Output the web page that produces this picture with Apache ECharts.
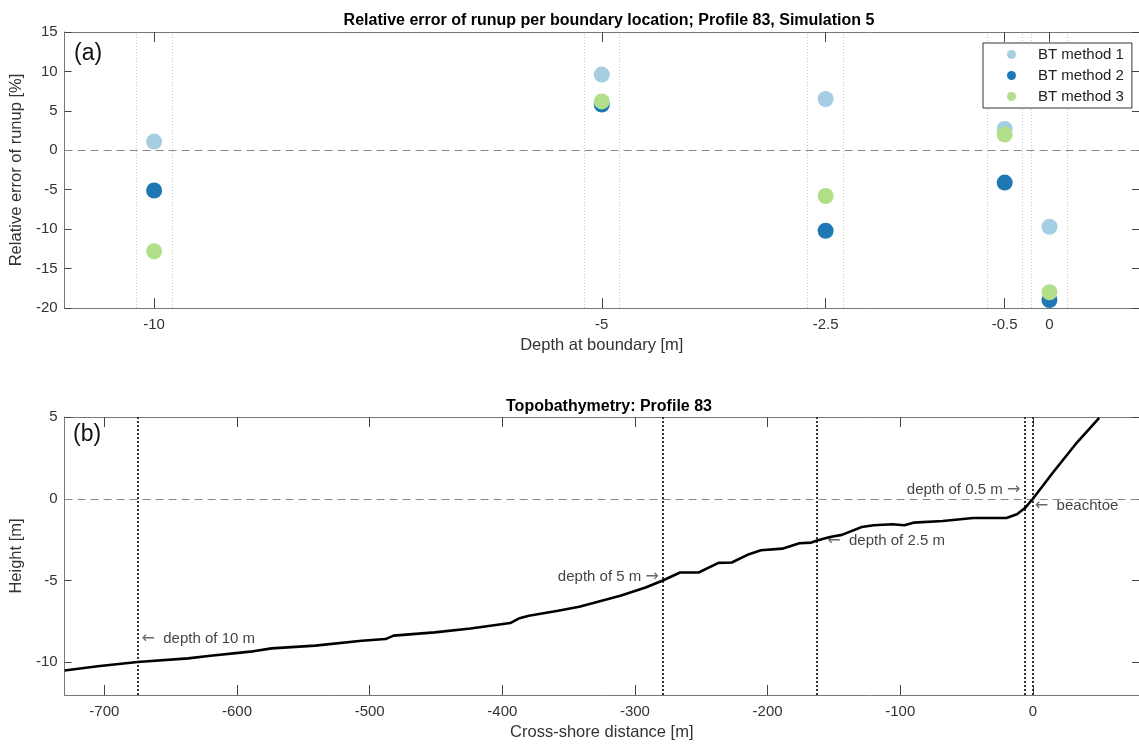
<!DOCTYPE html>
<html>
<head>
<meta charset="utf-8">
<script src="https://cdn.jsdelivr.net/npm/echarts@6/dist/echarts.min.js"></script>
<style>
html,body{margin:0;padding:0;background:#fff;}
#chart{width:1139px;height:749px;}
</style>
</head>
<body>
<div id="chart"></div>
<script>
// panel (a): relative error of runup per boundary depth
var depths = [-10, -5, -2.5, -0.5, 0];
var errMethod1 = [1.1, 9.6, 6.5, 2.7, -9.7];
var errMethod2 = [-5.1, 5.8, -10.2, -4.1, -19.0];
var errMethod3 = [-12.8, 6.2, -5.8, 2.0, -18.0];
var methodNames = ['BT method 1', 'BT method 2', 'BT method 3'];

// panel (b): profile 83
var profileX = [-730, -705, -675, -637, -620, -590, -574, -541, -506, -488, -482, -451, -424, -394, -387, -380, -358, -342, -311, -292, -279, -266, -252, -237, -227, -214, -205, -189, -176, -167, -162, -153, -144, -129, -120, -106, -97, -90, -68, -45, -20, -12, -6, 0, 15, 32, 50];
var profileY = [-10.5, -10.24, -9.98, -9.76, -9.6, -9.35, -9.15, -8.98, -8.68, -8.58, -8.37, -8.17, -7.93, -7.6, -7.3, -7.15, -6.85, -6.6, -5.93, -5.43, -5.0, -4.51, -4.51, -3.92, -3.9, -3.39, -3.15, -3.05, -2.72, -2.68, -2.54, -2.34, -2.21, -1.73, -1.62, -1.56, -1.62, -1.46, -1.36, -1.18, -1.18, -0.95, -0.57, 0.0, 1.59, 3.32, 4.95];
var boundaryX = [-675, -279, -163, -6, 0];
var annoText = ['{a|\u2190}  depth of 10 m', 'depth of 5 m {a|\u2192}', '{a|\u2190}  depth of 2.5 m', 'depth of 0.5 m {a|\u2192}', '{a|\u2190}  beachtoe'];
var annoX = [-672, -282, -155, -9.5, 1.5];
var annoY = [-8.55, -4.8, -2.6, 0.55, -0.45];
var annoAlign = ['left', 'right', 'left', 'right', 'left'];

var colors = ['#a6cee3', '#1f78b4', '#b2df8a'];
var font = 'Liberation Sans, Arial, sans-serif';
var axisColor = '#777';
var labelColor = '#333';

var chart = echarts.init(document.getElementById('chart'));

function pts(ys){
	var out = [];
	for(var i=0;i<depths.length;i++){
		out.push([depths[i], ys[i]]);
	}
	return out;
}
var bandLines = [];
for(var i=0;i<depths.length;i++){
	bandLines.push({xAxis: depths[i]-0.2});
	bandLines.push({xAxis: depths[i]+0.2});
}
var boundLines = boundaryX.map(function(x){ return {xAxis: x}; });
var profile = profileX.map(function(x, i){ return [x, profileY[i]]; });
var annos = annoText.map(function(t, i){
	return {
		value: [annoX[i], annoY[i]],
		label: {formatter: t, position: annoAlign[i]=='left' ? 'right' : 'left', distance: 0}
	};
});

function xAxisBase(grid, min, max, ticks, name){
	return {
		type: 'value', gridIndex: grid, min: min, max: max,
		name: name, nameLocation: 'middle', nameGap: 29,
		nameTextStyle: {fontSize: 16.5, color: labelColor, fontFamily: font},
		axisLine: {show: true, onZero: false, lineStyle: {color: axisColor}},
		axisTick: {show: true, inside: true, length: 10, customValues: ticks, lineStyle: {color: '#444'}},
		axisLabel: {show: true, customValues: ticks, margin: 9, fontSize: 15, color: labelColor, fontFamily: font},
		splitLine: {show: false}
	};
}
function mirrorX(grid, min, max, ticks){
	return {
		type: 'value', gridIndex: grid, min: min, max: max, position: 'top',
		axisLine: {show: true, onZero: false, lineStyle: {color: axisColor}},
		axisTick: {show: true, inside: true, length: 10, customValues: ticks, lineStyle: {color: '#444'}},
		axisLabel: {show: false}, splitLine: {show: false}
	};
}
function yAxisBase(grid, min, max, ticks, name){
	return {
		type: 'value', gridIndex: grid, min: min, max: max,
		name: name, nameLocation: 'middle', nameGap: 31,
		nameTextStyle: {fontSize: 16.5, color: labelColor, fontFamily: font},
		axisLine: {show: true, onZero: false, lineStyle: {color: axisColor}},
		axisTick: {show: true, inside: true, length: 7, customValues: ticks, lineStyle: {color: '#444'}},
		axisLabel: {show: true, customValues: ticks, margin: 7, fontSize: 15, color: labelColor, fontFamily: font},
		splitLine: {show: false}
	};
}
function mirrorY(grid, min, max, ticks){
	return {
		type: 'value', gridIndex: grid, min: min, max: max, position: 'right',
		axisLine: {show: true, onZero: false, lineStyle: {color: axisColor}},
		axisTick: {show: true, inside: true, length: 7, customValues: ticks, lineStyle: {color: '#444'}},
		axisLabel: {show: false}, splitLine: {show: false}
	};
}

var xTicksA = depths;
var yTicksA = [-20, -15, -10, -5, 0, 5, 10, 15];
var xTicksB = [-700, -600, -500, -400, -300, -200, -100, 0];
var yTicksB = [-10, -5, 0, 5];

var option = {
	backgroundColor: '#fff',
	animation: false,
	textStyle: {fontFamily: font},
	title: [
		{text: 'Relative error of runup per boundary location; Profile 83, Simulation 5', left: 604, textAlign: 'center', top: 8,
			textStyle: {fontSize: 16, fontWeight: 'bold', color: '#000', fontFamily: font}},
		{text: 'Topobathymetry: Profile 83', left: 604, textAlign: 'center', top: 394,
			textStyle: {fontSize: 16, fontWeight: 'bold', color: '#000', fontFamily: font}},
		{text: '(a)', left: 69, top: 37, textStyle: {fontSize: 23, fontWeight: 'normal', color: '#111', fontFamily: font}},
		{text: '(b)', left: 68, top: 418, textStyle: {fontSize: 23, fontWeight: 'normal', color: '#111', fontFamily: font}}
	],
	legend: {
		data: methodNames,
		orient: 'vertical',
		left: 983, top: 43, z: 20,
		icon: 'circle', itemWidth: 9, itemHeight: 9, itemGap: 4,
		padding: [3, 8, 3, 24],
		borderColor: '#333', borderWidth: 1, backgroundColor: '#fff',
		textStyle: {fontSize: 15, color: '#222', fontFamily: font, padding: [0, 0, 0, 17], lineHeight: 17}
	},
	grid: [
		{left: 64, right: -5, top: 32, height: 276, containLabel: false},
		{left: 64, right: -5, top: 417, height: 278, containLabel: false}
	],
	xAxis: [
		xAxisBase(0, -11, 1, xTicksA, 'Depth at boundary [m]'),
		mirrorX(0, -11, 1, xTicksA),
		xAxisBase(1, -730, 80, xTicksB, 'Cross-shore distance [m]'),
		mirrorX(1, -730, 80, xTicksB)
	],
	yAxis: [
		yAxisBase(0, -20, 15, yTicksA, 'Relative error of runup [%]'),
		mirrorY(0, -20, 15, yTicksA),
		yAxisBase(1, -12, 5, yTicksB, 'Height [m]'),
		mirrorY(1, -12, 5, yTicksB)
	],
	series: [
		{
			name: 'refs a', type: 'line', xAxisIndex: 0, yAxisIndex: 0, data: [], silent: true,
			markLine: {
				silent: true, symbol: 'none', label: {show: false},
				data: bandLines.concat([{yAxis: 0, lineStyle: {type: [8, 5], color: '#888', width: 1}}]),
				lineStyle: {type: [1, 2], color: '#c8c8c8', width: 1}
			}
		},
		{name: methodNames[0], type: 'scatter', xAxisIndex: 0, yAxisIndex: 0, data: pts(errMethod1), symbolSize: 16, itemStyle: {color: colors[0], opacity: 1}},
		{name: methodNames[1], type: 'scatter', xAxisIndex: 0, yAxisIndex: 0, data: pts(errMethod2), symbolSize: 16, itemStyle: {color: colors[1], opacity: 1}},
		{name: methodNames[2], type: 'scatter', xAxisIndex: 0, yAxisIndex: 0, data: pts(errMethod3), symbolSize: 16, itemStyle: {color: colors[2], opacity: 1}},
		{
			name: 'profile', type: 'line', xAxisIndex: 2, yAxisIndex: 2, data: profile,
			showSymbol: false, symbol: 'none', lineStyle: {color: '#000', width: 2.6}, z: 5,
			markLine: {
				silent: true, symbol: 'none', label: {show: false},
				data: boundLines.concat([{yAxis: 0, lineStyle: {type: [8, 5], color: '#888', width: 1}}]),
				lineStyle: {type: [2, 2], color: '#333', width: 2}
			}
		},
		{
			name: 'annotations', type: 'scatter', xAxisIndex: 2, yAxisIndex: 2, data: annos,
			symbolSize: 0, silent: true,
			label: {show: true, fontSize: 15, color: '#111', fontFamily: font,
				rich: {a: {fontSize: 16, fontFamily: 'DejaVu Sans', color: '#444'}}}
		}
	]
};
chart.setOption(option);
</script>
</body>
</html>
